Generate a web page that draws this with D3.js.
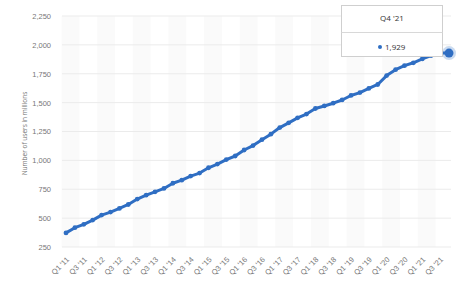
<!DOCTYPE html>
<html>
<head>
<meta charset="utf-8">
<script src="https://cdn.jsdelivr.net/npm/d3@7"></script>
<style>
body{margin:0;background:#fff;font-family:"Open Sans",Arial,sans-serif;}
.gridline{stroke:#ebebeb;stroke-width:1;}
.tick text{fill:#777;font-size:7.5px;}
</style>
</head>
<body>
<div id="chart"></div>
<script>
// quarters Q1 '11 .. Q4 '21
var years = ['11','12','13','14','15','16','17','18','19','20','21'];
var quarters = [];
years.forEach(function(y){ for (var q=1;q<=4;q++){ quarters.push('Q'+q+" '"+y); } });

// daily active users, millions
var users = [372,417,446,483,526,552,584,618,665,699,728,757,802,829,864,890,
	936,968,1007,1038,1090,1128,1179,1227,1284,1325,1368,1401,1449,1471,1495,1523,
	1562,1587,1623,1657,1734,1785,1820,1845,1878,1908,1930,1929];

var yTicks = [250,500,750,1000,1250,1500,1750,2000,2250];
var yTitle = 'Number of users in millions';

var W = 457, H = 291;
var m = {l:62, r:8, t:16, b:44};

var svg = d3.select('#chart').append('svg')
	.attr('width',W).attr('height',H);

var x = d3.scalePoint()
	.domain(quarters)
	.range([m.l+4, W-m.r])
	.padding(0);
var step = x.step();

var y = d3.scaleLinear()
	.domain([250,2250])
	.range([H-m.b, m.t]);

// alternating bands, one per labelled pair of quarters
var bands = quarters.filter(function(d,i){ return i%4==0; });
svg.selectAll('.band')
	.data(bands).enter()
	.append('rect')
		.attr('class','band')
		.attr('x',function(d){ return x(d)-step/2; })
		.attr('width',step*2)
		.attr('y',y(2250))
		.attr('height',y(250)-y(2250))
		.attr('fill','#fafafa');

// horizontal grid
svg.selectAll('.gridline')
	.data(yTicks).enter()
	.append('line')
		.attr('class','gridline')
		.attr('x1',m.l).attr('x2',W-m.r+2)
		.attr('y1',function(d){ return y(d); })
		.attr('y2',function(d){ return y(d); });

// y axis
var yAxis = svg.append('g')
	.attr('transform','translate('+(m.l-8)+',0)')
	.call(d3.axisLeft(y).tickValues(yTicks).tickSize(0).tickFormat(d3.format(',')));
yAxis.select('.domain').remove();
yAxis.selectAll('text').attr('dy','0.32em');

svg.append('text')
	.attr('transform','translate(27,'+((y(250)+y(2250))/2+2)+') rotate(-90)')
	.attr('text-anchor','middle')
	.attr('fill','#777')
	.attr('font-size','6.5px')
	.text(yTitle);

// x axis
var xAxis = svg.append('g')
	.attr('transform','translate(0,'+(H-m.b)+')')
	.call(d3.axisBottom(x)
		.tickValues(quarters.filter(function(d,i){ return i%2==0; }))
		.tickSize(0));
xAxis.select('.domain').remove();
xAxis.selectAll('text')
	.attr('text-anchor','end')
	.attr('dy',0)
	.attr('transform','translate(1,11) rotate(-45)');

// line
var line = d3.line()
	.x(function(d,i){ return x(quarters[i]); })
	.y(function(d){ return y(d); });

svg.append('path')
	.datum(users)
	.attr('fill','none')
	.attr('stroke','#2f6ec3')
	.attr('stroke-width',3)
	.attr('stroke-linejoin','round')
	.attr('d',line);

svg.selectAll('.dot')
	.data(users).enter()
	.append('circle')
		.attr('class','dot')
		.attr('cx',function(d,i){ return x(quarters[i]); })
		.attr('cy',function(d){ return y(d); })
		.attr('r',2.4)
		.attr('fill','#2f6ec3');

// hovered last point
var li = users.length-1;
svg.append('circle')
	.attr('cx',x(quarters[li])).attr('cy',y(users[li]))
	.attr('r',7).attr('fill','#2f6ec3').attr('opacity',0.25);
svg.append('circle')
	.attr('cx',x(quarters[li])).attr('cy',y(users[li]))
	.attr('r',4.5).attr('fill','#2f6ec3');

// tooltip
var tip = svg.append('g').attr('transform','translate(341,5)');
tip.append('rect')
	.attr('x',0.5).attr('y',0.5)
	.attr('width',101).attr('height',51)
	.attr('fill','#fff')
	.attr('stroke','#cfcfcf');
tip.append('line')
	.attr('x1',0.5).attr('x2',101.5)
	.attr('y1',27.5).attr('y2',27.5)
	.attr('stroke','#d8d8d8');
tip.append('text')
	.attr('x',51).attr('y',16)
	.attr('text-anchor','middle')
	.attr('font-size','8px')
	.attr('fill','#333')
	.text(quarters[li]);
tip.append('circle')
	.attr('cx',39).attr('cy',42).attr('r',2)
	.attr('fill','#2f6ec3');
tip.append('text')
	.attr('x',44).attr('y',45)
	.attr('font-size','8px')
	.attr('fill','#333')
	.text(d3.format(',')(users[li]));
</script>
</body>
</html>
